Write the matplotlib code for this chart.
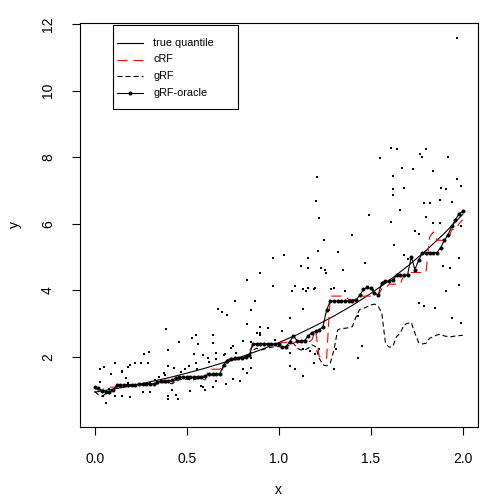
import numpy as np
import matplotlib
matplotlib.use("Agg")
import matplotlib.pyplot as plt
from matplotlib.lines import Line2D
from matplotlib.patches import Rectangle

plt.rcParams['font.family'] = ['Liberation Sans', 'DejaVu Sans']
plt.rcParams['lines.scale_dashes'] = False

# ---------------- data ----------------
# scattered observations (x, y)
obs_x = [1.97, 1.61, 1.645, 1.80, 1.77, 1.78, 1.92, 1.55, 1.62, 1.67, 1.73, 1.84, 1.97, 1.99,
         1.62, 1.68, 1.88, 1.91, 1.62, 1.21, 1.20, 1.22, 1.49, 1.61, 1.66, 1.79, 1.82, 1.875,
         1.94, 1.80, 1.84, 1.875, 1.99, 1.245, 1.40, 1.215, 1.32, 1.625, 1.74, 1.76, 1.68, 1.98,
         0.97, 1.03, 1.16, 1.12, 1.47, 1.89, 1.25, 1.255, 1.35, 1.16, 1.19, 1.15, 1.36, 1.91,
         1.85, 1.76, 1.79, 1.13, 1.43, 1.94, 1.99, 1.17, 1.13, 1.195, 1.455, 1.43, 1.30, 1.16,
         1.23, 1.09, 1.13, 1.07, 1.195, 1.30, 1.285, 0.90, 1.98, 1.93, 0.97, 0.83, 0.76, 0.87,
         0.67, 0.69, 0.72, 0.85, 0.83, 0.94, 0.90, 0.88, 0.90, 0.90, 0.39, 0.55, 0.53, 0.64,
         0.46, 0.56, 0.40, 0.295, 0.27, 0.66, 0.54, 0.59, 0.11, 0.22, 0.19, 0.18, 0.15, 0.29,
         0.25, 0.40, 0.375, 0.43, 0.49, 0.55, 0.555, 0.615, 0.62, 0.03, 0.05, 0.09, 0.15, 0.17,
         0.18, 0.35, 0.51, 0.66, 0.38, 0.03, 0.045, 0.06, 0.10, 0.11, 0.15, 0.19, 0.26, 0.30,
         0.40, 0.40, 0.30, 0.44, 0.45, 0.42, 0.52, 0.58, 0.59, 0.66, 1.06, 1.015, 0.805, 0.85,
         0.645, 0.75, 0.74, 0.77, 0.71, 1.06, 1.22, 1.06, 1.09, 1.19, 0.85, 0.805, 0.825, 1.13,
         0.75, 0.715, 0.79, 0.85, 0.64, 0.60, 1.31, 0.08, 0.33, 0.47, 0.70, 0.98, 1.51, 1.70]
obs_y = [11.60, 8.28, 8.25, 8.25, 8.10, 8.02, 8.00, 7.99, 7.42, 7.67, 7.65, 7.60, 7.35, 7.14,
         7.05, 7.07, 7.07, 7.05, 6.87, 7.40, 6.67, 6.17, 6.27, 6.04, 6.42, 6.62, 6.62, 6.72,
         6.66, 6.20, 6.01, 6.01, 5.92, 5.50, 5.66, 5.19, 5.14, 5.37, 5.77, 5.69, 5.06, 4.97,
         4.97, 5.07, 4.97, 4.72, 4.82, 4.72, 4.62, 4.52, 4.62, 4.07, 4.02, 3.97, 3.97, 3.97,
         3.47, 3.62, 3.52, 3.42, 3.22, 3.17, 3.02, 2.17, 2.22, 2.07, 2.32, 1.97, 1.62, 4.67,
         4.67, 4.12, 4.02, 3.97, 4.07, 4.07, 4.02, 4.52, 4.14, 4.67, 4.12, 4.30, 3.68, 3.68,
         3.42, 3.34, 3.26, 3.40, 2.99, 2.87, 2.90, 2.70, 2.72, 2.66, 2.84, 2.64, 2.57, 2.64,
         2.44, 2.37, 2.20, 2.14, 2.09, 2.12, 2.09, 2.04, 1.80, 1.82, 1.74, 1.69, 1.57, 1.82,
         1.80, 1.72, 1.52, 1.67, 1.64, 1.80, 1.64, 1.97, 1.84, 1.64, 1.69, 1.47, 1.54, 1.34,
         1.20, 1.40, 1.72, 1.92, 1.44, 1.22, 0.82, 0.59, 0.99, 0.80, 0.82, 0.77, 0.92, 0.92,
         0.82, 0.72, 1.20, 0.84, 0.72, 0.99, 0.97, 1.12, 1.07, 1.27, 3.17, 2.77, 2.47, 2.44,
         2.42, 2.32, 2.27, 2.12, 2.07, 2.12, 2.22, 1.72, 1.62, 1.82, 1.67, 1.62, 1.52, 1.42,
         1.32, 1.17, 1.27, 1.97, 1.07, 1.00, 2.22, 1.02, 1.30, 1.55, 2.05, 2.50, 4.00, 4.95]

# true quantile curve
true_x = [0.0, 0.1, 0.2, 0.3, 0.4, 0.5, 0.6, 0.7, 0.8, 0.9, 1.0,
          1.1, 1.2, 1.3, 1.4, 1.5, 1.6, 1.7, 1.8, 1.9, 2.0]
true_y = [0.93, 1.02, 1.12, 1.24, 1.36, 1.50, 1.65, 1.82, 2.00, 2.20, 2.42,
          2.66, 2.93, 3.22, 3.54, 3.90, 4.29, 4.72, 5.19, 5.71, 6.28]

# test grid for the fitted quantiles
grid_x = np.round(np.arange(0, 2.0001, 0.02), 2)

oracle_y = [1.08, 1.05, 0.95, 0.93, 0.93, 0.98, 1.14, 1.14, 1.14, 1.15,
            1.15, 1.15, 1.17, 1.17, 1.17, 1.18, 1.18, 1.22, 1.26, 1.26,
            1.26, 1.28, 1.36, 1.38, 1.38, 1.38, 1.38, 1.38, 1.40, 1.40,
            1.42, 1.47, 1.47, 1.47, 1.48, 1.75, 1.88, 1.92, 1.95, 1.97,
            1.97, 2.00, 2.05, 2.38, 2.38, 2.38, 2.38, 2.38, 2.38, 2.38,
            2.38, 2.28, 2.30, 2.45, 2.62, 2.48, 2.46, 2.48, 2.62, 2.72,
            2.76, 2.80, 2.90, 3.40, 3.67, 3.67, 3.67, 3.67, 3.67, 3.67,
            3.67, 3.70, 3.85, 4.02, 4.08, 4.05, 3.92, 3.85, 4.22, 4.27,
            4.27, 4.30, 4.44, 4.44, 4.44, 4.46, 5.00, 4.62, 4.90, 5.12,
            5.13, 5.13, 5.13, 5.13, 5.28, 5.50, 5.67, 5.92, 6.12, 6.30,
            6.37]

crf_y = [1.05, 1.00, 1.00, 1.05, 1.08, 1.08, 1.08, 1.15, 1.15, 1.15,
         1.15, 1.16, 1.18, 1.18, 1.19, 1.20, 1.20, 1.20, 1.28, 1.28,
         1.28, 1.28, 1.28, 1.36, 1.36, 1.36, 1.36, 1.36, 1.36, 1.32,
         1.30, 1.62, 1.62, 1.62, 1.62, 1.75, 1.90, 1.95, 1.95, 1.95,
         1.95, 1.95, 2.16, 2.37, 2.37, 2.37, 2.37, 2.37, 2.37, 2.37,
         2.37, 2.43, 2.43, 2.43, 2.43, 2.43, 2.43, 2.43, 2.43, 2.50,
         2.80, 2.00, 1.95, 1.95, 3.82, 3.82, 3.82, 3.82, 3.82, 3.72,
         3.72, 3.72, 3.82, 3.82, 3.82, 3.82, 3.82, 3.82, 4.05, 4.05,
         4.18, 4.18, 4.18, 4.18, 4.45, 4.45, 4.53, 4.53, 4.53, 4.53,
         4.53, 5.60, 5.75, 5.50, 5.50, 5.50, 5.52, 5.82, 5.82, 6.00,
         6.12]

grf_y = [0.95, 0.85, 0.80, 0.88, 0.95, 1.00, 1.10, 1.12, 1.12, 1.12,
         1.12, 1.14, 1.15, 1.15, 1.16, 1.17, 1.17, 1.18, 1.20, 1.22,
         1.20, 1.18, 1.25, 1.30, 1.32, 1.32, 1.30, 1.30, 1.34, 1.36,
         1.38, 1.42, 1.45, 1.45, 1.46, 1.70, 1.82, 1.88, 1.90, 1.92,
         1.94, 1.96, 2.05, 2.20, 2.25, 2.20, 2.22, 2.25, 2.28, 2.30,
         2.30, 2.28, 2.30, 2.35, 2.40, 2.25, 2.20, 2.20, 2.25, 2.35,
         2.30, 1.95, 1.75, 1.72, 1.80, 2.20, 2.80, 2.85, 2.85, 2.87,
         2.90, 3.20, 3.42, 3.45, 3.50, 3.55, 3.58, 3.52, 3.30, 2.40,
         2.28, 2.30, 2.60, 2.70, 2.95, 3.00, 3.03, 2.70, 2.42, 2.38,
         2.40, 2.55, 2.60, 2.65, 2.67, 2.62, 2.60, 2.60, 2.62, 2.63,
         2.64]

legend_labels = ["true quantile", "cRF", "gRF", "gRF-oracle"]

# ---------------- plot ----------------
W = H = 500
LW = 0.8
MS = 2.9
RED_DASH = (0, (7.2, 4.3))
BLK_DASH = (0, (3.6, 2.2))

fig = plt.figure(figsize=(5, 5), dpi=100)
L, R, T, B = 80, 477.5, 23, 427
ax = fig.add_axes([L / W, 1 - B / H, (R - L) / W, (B - T) / H])

ax.scatter(obs_x, obs_y, marker='s', s=1.3, color='black', linewidths=0, zorder=2)
ax.plot(true_x, true_y, color='black', lw=LW, zorder=3)
ax.plot(grid_x, crf_y, color='red', lw=LW, ls=RED_DASH, zorder=4)
ax.plot(grid_x, grf_y, color='black', lw=LW, ls=BLK_DASH, zorder=5)
ax.plot(grid_x, oracle_y, color='black', lw=LW, marker='o', ms=MS, mew=0, zorder=6)

ax.set_xlim(-0.08, 2.08)
ax.set_ylim(-0.12, 12.04)
ax.set_xticks([0.0, 0.5, 1.0, 1.5, 2.0])
ax.set_xticklabels(["0.0", "0.5", "1.0", "1.5", "2.0"])
ax.set_yticks([2, 4, 6, 8, 10, 12])
ax.tick_params(axis='both', direction='out', length=6, width=0.8, labelsize=10, pad=12)
for lab in ax.get_yticklabels():
    lab.set_rotation(90)
    lab.set_va('center')
for s in ax.spines.values():
    s.set_linewidth(0.8)
ax.set_xlabel("x", fontsize=10, labelpad=12)
ax.set_ylabel("y", fontsize=10, labelpad=14)

# legend (drawn in figure pixel space, R style)
def fx(px):
    return px / W

def fy(py):
    return 1 - py / H

fig.patches.append(Rectangle((fx(113), fy(109)), fx(238) - fx(113), fy(25) - fy(109),
                             transform=fig.transFigure, fill=False, edgecolor='black',
                             linewidth=0.8, zorder=10))
rows = [43, 59.5, 76, 92.5]
styles = [dict(color='black', ls='-'),
          dict(color='red', ls=RED_DASH),
          dict(color='black', ls=BLK_DASH),
          dict(color='black', ls='-')]
for i, (ry, st, lab) in enumerate(zip(rows, styles, legend_labels)):
    fig.lines.append(Line2D([fx(117), fx(143)], [fy(ry), fy(ry)],
                            transform=fig.transFigure, lw=LW, **st))
    if i == 3:
        fig.lines.append(Line2D([fx(130)], [fy(ry)], transform=fig.transFigure,
                                marker='o', ms=MS, mew=0, color='black', ls='none'))
    fig.text(fx(153), fy(ry), lab, fontsize=7.8, va='center', ha='left')

fig.savefig("out.png", dpi=100)
